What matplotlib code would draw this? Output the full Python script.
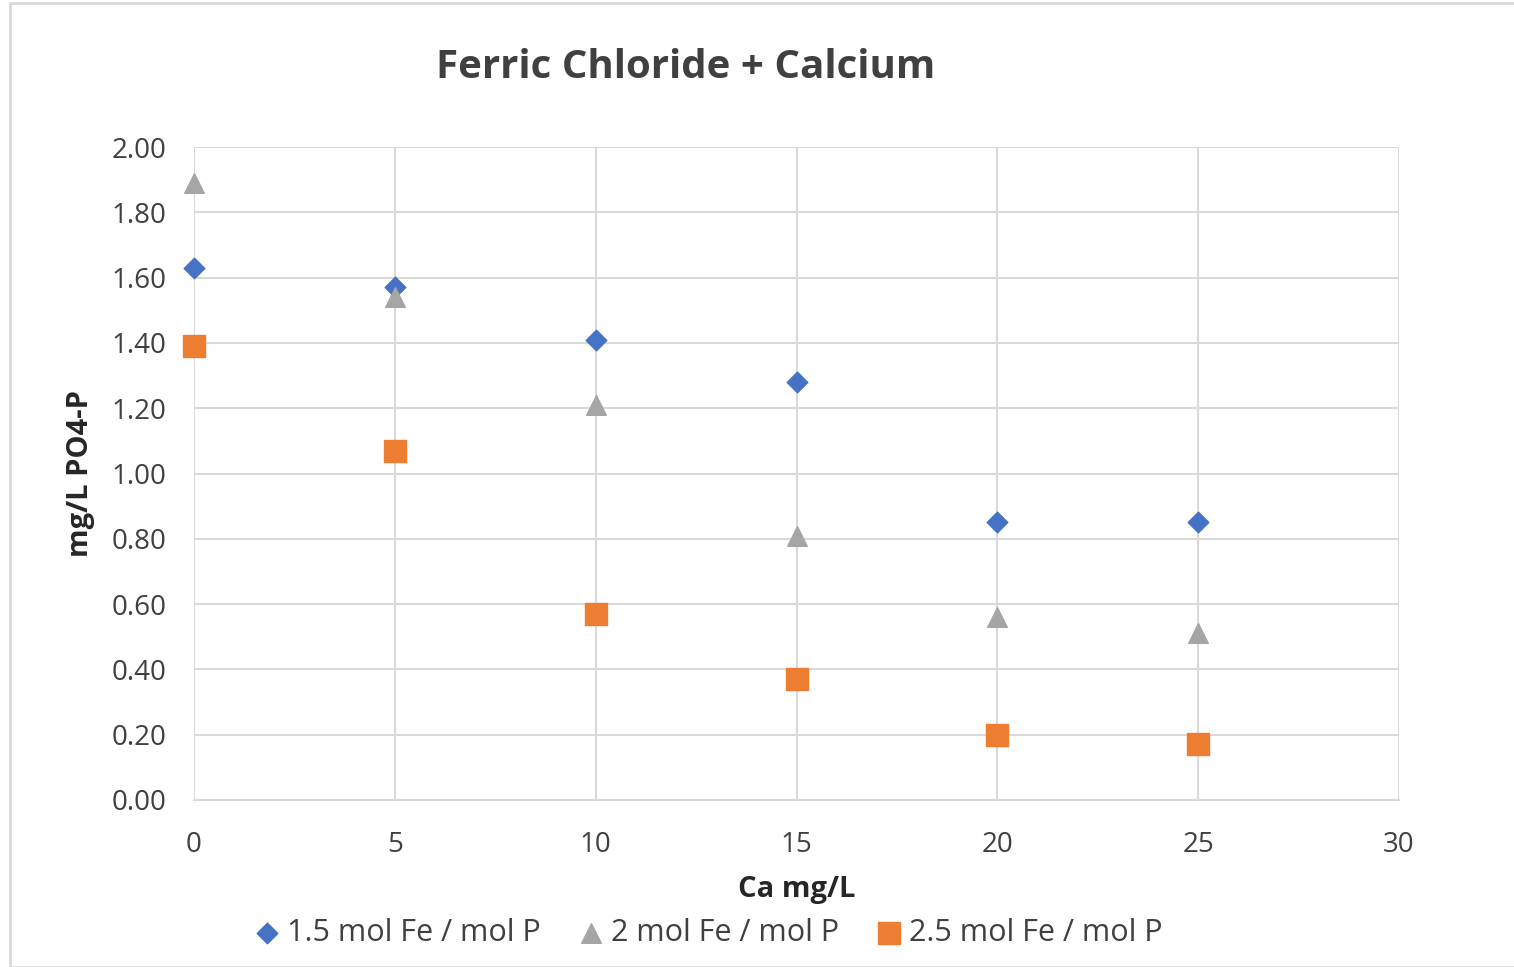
import matplotlib.pyplot as plt
from matplotlib.patches import Rectangle

plt.rcParams['font.family'] = ['Open Sans', 'DejaVu Sans']

ca = [0, 5, 10, 15, 20, 25]
fe15 = [1.63, 1.57, 1.41, 1.28, 0.85, 0.85]
fe20 = [1.89, 1.54, 1.21, 0.81, 0.56, 0.51]
fe25 = [1.39, 1.07, 0.57, 0.37, 0.20, 0.17]

fig = plt.figure(figsize=(15.14, 9.67), dpi=100)
ax = fig.add_axes([194 / 1514, 1 - 800 / 967, (1399 - 194) / 1514, (800 - 147) / 967])

ax.scatter(ca, fe15, marker='D', s=110, color='#4472C4', label='1.5 mol Fe / mol P', zorder=3, clip_on=False)
ax.scatter(ca, fe20, marker='^', s=200, color='#A5A5A5', label='2 mol Fe / mol P', zorder=3, clip_on=False)
ax.scatter(ca, fe25, marker='s', s=230, color='#ED7D31', label='2.5 mol Fe / mol P', zorder=3, clip_on=False)

ax.set_xlim(0, 30)
ax.set_ylim(0, 2.0)
ax.set_xticks(range(0, 31, 5))
ax.set_yticks([i * 0.2 for i in range(11)])
ax.set_yticklabels([f'{i * 0.2:.2f}' for i in range(11)])
ax.grid(True, color='#D9D9D9', linewidth=1.5)
ax.set_axisbelow(True)
for s in ['top', 'right', 'left']:
    ax.spines[s].set_visible(False)
ax.spines['bottom'].set_color('#D9D9D9')
ax.spines['bottom'].set_linewidth(1.5)
ax.tick_params(length=0, labelsize=20, colors='#404040')
ax.tick_params(axis='x', pad=22)
ax.tick_params(axis='y', pad=20)

ax.set_xlabel('Ca mg/L', fontsize=21, fontweight='bold', color='#262626', labelpad=12)
ax.set_ylabel('mg/L PO4-P', fontsize=21, fontweight='bold', color='#262626', labelpad=12)
fig.text(686 / 1514, 1 - 67 / 967, 'Ferric Chloride + Calcium', ha='center', va='center',
         fontsize=29, fontweight='bold', color='#404040')

fig.legend(loc='center', bbox_to_anchor=(705 / 1514, 1 - 933 / 967), ncol=3, frameon=False,
           fontsize=22, handletextpad=0.0, handlelength=1.3, columnspacing=1.0,
           labelcolor='#404040')

fig.patches.append(Rectangle((10 / 1514, 0), 1.2, 1 - 3 / 967, transform=fig.transFigure,
                             fill=False, edgecolor='#D9D9D9', linewidth=2))

fig.savefig('out.png', dpi=100)
